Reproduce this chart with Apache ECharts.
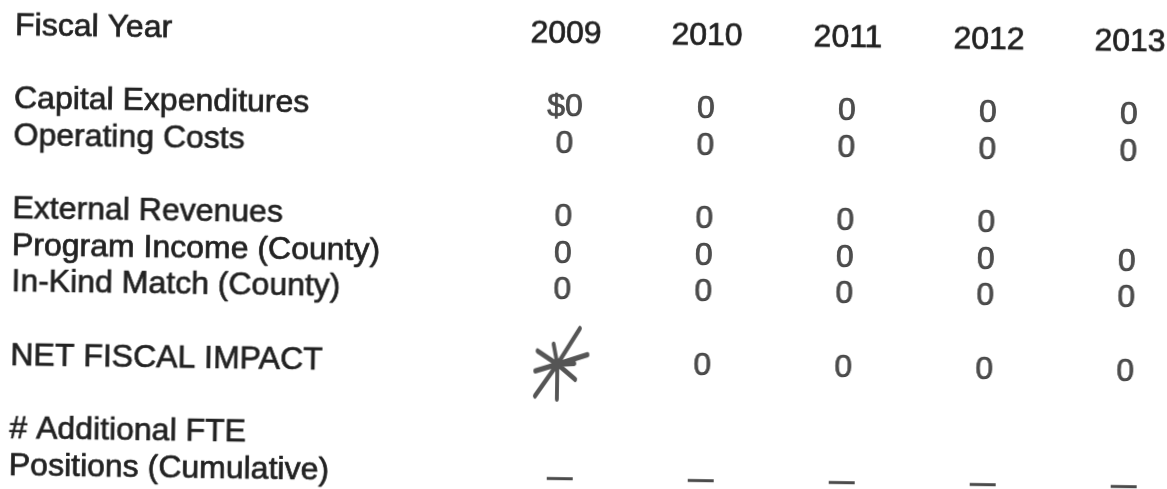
<!DOCTYPE html>
<html lang="en">

<head>
	<title>Fiscal Impact</title>
	<meta http-equiv="content-type" content="text/html; charset=utf-8">
	<script src="https://cdn.jsdelivr.net/npm/echarts@6/dist/echarts.min.js"></script>
	<style type="text/css">
		body,
		html {
			margin: 0;
			padding: 0;
			width: 100%;
			height: 100%;
			overflow: hidden;
			background: #fff;
		}

		/* the scanned page is a little crooked */
		#main {
			width: 1167px;
			height: 489px;
			transform: rotate(0.81deg);
			transform-origin: 0 50%;
		}
	</style>
</head>

<body>
	<div id="main"></div>
	<script>
		// column headers
		var fiscalYears = ['2009', '2010', '2011', '2012', '2013'];

		// row labels, '' = empty spacer line
		var rowLabels = [
			'Fiscal Year',
			'',
			'Capital Expenditures',
			'Operating Costs',
			'',
			'External Revenues',
			'Program Income (County)',
			'In-Kind Match (County)',
			'',
			'NET FISCAL IMPACT',
			'',
			'# Additional FTE',
			'Positions (Cumulative)'
		];

		// values per row, null = cell left blank
		var capitalExpenditures = [0, 0, 0, 0, 0];
		var operatingCosts = [0, 0, 0, 0, 0];
		var externalRevenues = [0, 0, 0, 0, null];
		var programIncome = [0, 0, 0, 0, 0];
		var inKindMatch = [0, 0, 0, 0, 0];
		var netFiscalImpact = [0, 0, 0, 0, 0];
		var fteCumulative = ['—', '—', '—', '—', '—'];

		// cell that was scribbled out by hand
		var struckCells = [['NET FISCAL IMPACT', '2009']];

		var valueRows = [
			['Capital Expenditures', capitalExpenditures],
			['Operating Costs', operatingCosts],
			['External Revenues', externalRevenues],
			['Program Income (County)', programIncome],
			['In-Kind Match (County)', inKindMatch],
			['NET FISCAL IMPACT', netFiscalImpact]
		];

		function isStruck(row, year) {
			return struckCells.some(function (c) {
				return c[0] === row && c[1] === year;
			});
		}

		var textCells = [];
		valueRows.forEach(function (r, ri) {
			var y = rowLabels.indexOf(r[0]);
			r[1].forEach(function (v, i) {
				if (v === null || isStruck(r[0], fiscalYears[i])) return;
				// first money figure of the table carries the dollar sign
				var txt = (ri === 0 && i === 0) ? '$' + v : String(v);
				textCells.push([i, y, txt]);
			});
		});

		var struckData = struckCells.map(function (c) {
			return [fiscalYears.indexOf(c[1]), rowLabels.indexOf(c[0])];
		});

		var dashData = [];
		fteCumulative.forEach(function (v, i) {
			if (v === '—') dashData.push([i, rowLabels.indexOf('Positions (Cumulative)')]);
		});

		var font = '"Liberation Sans", Arial, sans-serif';
		var ink = '#222';
		// scanned print looks a bit heavier than a clean regular face
		var textStyle = {
			fontFamily: font,
			fontSize: 32,
			color: ink,
			textBorderColor: ink,
			textBorderWidth: 0.7
		};

		var chart = echarts.init(document.getElementById('main'));
		var option = {
			animation: false,
			backgroundColor: '#fff',
			grid: {
				left: 563,
				right: 40,
				top: 8,
				bottom: 5,
				outerBoundsMode: 'none'
			},
			xAxis: {
				type: 'category',
				position: 'top',
				boundaryGap: false,
				data: fiscalYears,
				axisLine: { show: false },
				axisTick: { show: false },
				splitLine: { show: false },
				axisLabel: Object.assign({
					inside: true,
					interval: 0,
					margin: 18,
					verticalAlign: 'middle'
				}, textStyle)
			},
			yAxis: {
				type: 'category',
				inverse: true,
				data: rowLabels,
				axisLine: { show: false },
				axisTick: { show: false },
				splitLine: { show: false },
				axisLabel: Object.assign({
					interval: 0,
					align: 'left',
					margin: 551
				}, textStyle)
			},
			series: [
				// numbers in the table
				{
					type: 'scatter',
					symbolSize: 1,
					itemStyle: { color: 'rgba(0,0,0,0)' },
					label: Object.assign({
						show: true,
						position: 'inside',
						formatter: function (p) {
							return p.value[2];
						}
					}, textStyle),
					data: textCells
				},
				// scribble over the 2009 net impact
				{
					type: 'scatter',
					symbol: 'path://M23 36L3 23M23 36L1 43M23 36L1 68M23 36L23 71M23 36L41 51M23 36L53 26M23 36L45 0M23 36L19 16M23 36L40 35',
					symbolSize: [52, 71],
					symbolOffset: [0, 0],
					itemStyle: {
						color: 'none',
						borderColor: '#2a2a2a',
						borderWidth: 4.5,
						borderCap: 'round'
					},
					data: struckData
				},
				// FTE dashes
				{
					type: 'scatter',
					symbol: 'rect',
					symbolSize: [26, 3],
					symbolOffset: [0, 5],
					itemStyle: { color: '#1e1e1e' },
					data: dashData
				}
			]
		};
		chart.setOption(option);
	</script>
</body>

</html>
